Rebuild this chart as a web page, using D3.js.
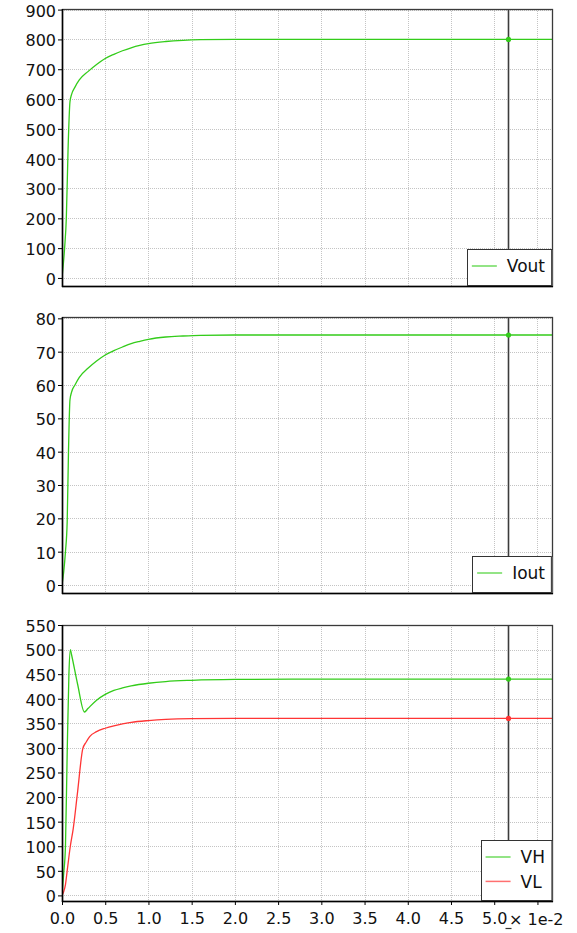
<!DOCTYPE html>
<html><head><meta charset="utf-8">
<script src="https://cdn.jsdelivr.net/npm/d3@7"></script>
<style>
html,body{margin:0;padding:0;background:#fff;}
svg{display:block;font-family:"DejaVu Sans",Verdana,sans-serif;}
</style></head><body>
<svg id="chart" width="577" height="933"></svg>
<script>
// ---- data (time in seconds) ----
const voutT = [0,0.0003,0.0005,0.0007,0.00092,0.0011,0.0015,0.002,0.003,0.004,0.005,0.006,0.007,0.008,0.009,0.010,0.012,0.014,0.016,0.020,0.0568];
const voutV = [0,100,200,430,590,615,640,664,692,716,736,750,762,772,780,786,793,797,799,800,800];

const ioutT = [0,0.0002,0.0004,0.0006,0.00075,0.00092,0.0011,0.0015,0.002,0.003,0.004,0.005,0.006,0.007,0.008,0.009,0.010,0.012,0.014,0.016,0.020,0.0568];
const ioutV = [0,4,10,19,40,55.5,57.8,60,62.3,65,67.2,69,70.3,71.4,72.4,73.1,73.7,74.4,74.7,74.9,75,75];

const vhT = [0,0.0002,0.0004,0.0006,0.0008,0.00097,0.0011,0.0018,0.0026,0.003,0.004,0.005,0.006,0.007,0.008,0.010,0.012,0.015,0.020,0.030,0.0568];
const vhV = [0,45,100,290,450,500,490,430,373,380,397,409,417,422,426,431.5,435,437.5,439.3,440,440];

const vlT = [0,0.0002,0.0004,0.0006,0.00097,0.0013,0.0018,0.0024,0.0028,0.0032,0.004,0.005,0.006,0.007,0.008,0.010,0.012,0.015,0.020,0.0568];
const vlV = [0,8,22,50,101,136,210,298,312,323,333,340,345,349,352,355.6,358,359.5,360,360];

const xTicks = [0,0.005,0.010,0.015,0.020,0.025,0.030,0.035,0.040,0.045,0.050,0.055];
const xTickLabels = ["0.0","0.5","1.0","1.5","2.0","2.5","3.0","3.5","4.0","4.5","5.0",""];
const xExponentLabel = "\u00d7 1e-2";
const cursorTime = 0.0516;

const voutTicks = [0,100,200,300,400,500,600,700,800,900];
const ioutTicks = [0,10,20,30,40,50,60,70,80];
const vhvlTicks = [0,50,100,150,200,250,300,350,400,450,500,550];

const GREEN = "#33cc1a", RED = "#ff3535";

// ---- layout ----
const svg = d3.select("#chart");
const x = d3.scaleLinear().domain([0, 0.0568]).range([62, 553]);

const panels = [
  {top: 9,   bottom: 286, domain: [-27, 902],   ticks: voutTicks,
   series: [{name:"Vout", t: voutT, v: voutV, color: GREEN}]},
  {top: 317, bottom: 593, domain: [-2.4, 80.4], ticks: ioutTicks,
   series: [{name:"Iout", t: ioutT, v: ioutV, color: GREEN}]},
  {top: 625, bottom: 901, domain: [-11.4, 550], ticks: vhvlTicks,
   series: [{name:"VH", t: vhT, v: vhV, color: GREEN},{name:"VL", t: vlT, v: vlV, color: RED}]}
];

panels.forEach((p, pi) => {
  const y = d3.scaleLinear().domain(p.domain).range([p.bottom, p.top]);
  const g = svg.append("g");
  const L = x.range()[0], R = x.range()[1];

  // grid
  const grid = g.append("g").attr("stroke", "#c4c4c4").attr("stroke-dasharray", "1,1").attr("stroke-width", 1);
  xTicks.forEach(t => {
    if (t === 0) return;
    const xx = Math.round(x(t)) + 0.5;
    grid.append("line").attr("x1", xx).attr("x2", xx).attr("y1", p.top).attr("y2", p.bottom);
  });
  p.ticks.forEach(v => {
    const yy = Math.round(y(v)) + 0.5;
    grid.append("line").attr("x1", L).attr("x2", R).attr("y1", yy).attr("y2", yy);
  });

  // clip for data
  const clipId = "clip" + pi;
  svg.append("clipPath").attr("id", clipId).append("rect")
    .attr("x", L).attr("y", p.top).attr("width", R - L).attr("height", p.bottom - p.top);

  // series
  p.series.forEach(s => {
    const pts = s.t.map((t, i) => [t, s.v[i]]);
    const line = d3.line().x(d => x(d[0])).y(d => y(d[1])).curve(d3.curveMonotoneX);
    g.append("path").attr("clip-path", `url(#${clipId})`)
      .attr("d", line(pts)).attr("fill", "none").attr("stroke", s.color).attr("stroke-width", 1.3);
  });

  // frame
  g.append("rect").attr("x", L + 0.5).attr("y", p.top + 0.5)
    .attr("width", R - L - 1).attr("height", p.bottom - p.top)
    .attr("fill", "none").attr("stroke", "#3a3a3a").attr("stroke-width", 1.3);
  g.append("line").attr("x1", L + 0.5).attr("x2", L + 0.5).attr("y1", p.top).attr("y2", p.bottom + 1)
    .attr("stroke", "#000").attr("stroke-width", 1.5);
  g.append("line").attr("x1", L).attr("x2", R).attr("y1", p.bottom + 0.5).attr("y2", p.bottom + 0.5)
    .attr("stroke", "#000").attr("stroke-width", 1.5);

  // y axis
  const yAxis = d3.axisLeft(y).tickValues(p.ticks).tickSize(4).tickPadding(2).tickFormat(d3.format("d"));
  const ya = g.append("g").attr("transform", `translate(${L},0)`).call(yAxis);
  ya.select(".domain").remove();
  ya.selectAll(".tick line").attr("stroke", "#000");
  ya.selectAll(".tick text").attr("font-size", 16).attr("fill", "#111")
    .attr("font-family", "DejaVu Sans, Verdana, sans-serif").attr("dy", "0.4em");

  // cursor
  const cx = Math.round(x(cursorTime)) + 0.5;
  g.append("line").attr("x1", cx).attr("x2", cx).attr("y1", p.top).attr("y2", p.bottom)
    .attr("stroke", "#3c3c3c").attr("stroke-width", 1.6);
  p.series.forEach(s => {
    const i = d3.bisectLeft(s.t, cursorTime);
    const t0 = s.t[i-1], t1 = s.t[i], v0 = s.v[i-1], v1 = s.v[i];
    const v = v0 + (v1 - v0) * (cursorTime - t0) / (t1 - t0);
    g.append("circle").attr("cx", cx).attr("cy", y(v)).attr("r", 2.6).attr("fill", s.color);
  });

  // legend
  const leg = g.append("g");
  const texts = p.series.map(s => s.name);
  const tmp = leg.append("text").attr("font-size", 17).attr("font-family", "DejaVu Sans, Verdana, sans-serif");
  const maxW = d3.max(texts, tx => { tmp.text(tx); return tmp.node().getComputedTextLength(); });
  tmp.remove();
  const bw = 5 + 25 + 10 + maxW + 6;
  const bh = 12 + 24 * p.series.length;
  const bx = R - 2 - bw, by = p.bottom - 1.5 - bh;
  leg.append("rect").attr("x", bx + 1.5).attr("y", by + 1.5).attr("width", bw).attr("height", bh).attr("fill", "#8a8a8a");
  leg.append("rect").attr("x", Math.round(bx) + 0.5).attr("y", Math.round(by) + 0.5).attr("width", bw).attr("height", bh)
    .attr("fill", "#fff").attr("stroke", "#333").attr("stroke-width", 1);
  p.series.forEach((s, i) => {
    const ly = by + 17.5 + i * 24.4;
    leg.append("line").attr("x1", bx + 5).attr("x2", bx + 30).attr("y1", ly).attr("y2", ly)
      .attr("stroke", s.color).attr("stroke-width", 1.5).attr("opacity", 0.7);
    leg.append("text").attr("x", bx + 40).attr("y", ly).attr("dy", "0.36em")
      .attr("font-size", 17).attr("fill", "#111").text(s.name);
  });

  // x axis on bottom panel
  if (pi === panels.length - 1) {
    const xAxis = d3.axisBottom(x).tickValues(xTicks).tickSize(3).tickPadding(8)
      .tickFormat((d, i) => xTickLabels[i]);
    const xa = g.append("g").attr("transform", `translate(0,${p.bottom + 1})`).call(xAxis);
    xa.select(".domain").remove();
    xa.selectAll(".tick line").attr("stroke", "#000");
    xa.selectAll(".tick text").attr("font-size", 16).attr("fill", "#111")
      .attr("font-family", "DejaVu Sans, Verdana, sans-serif");
    g.append("text").attr("x", 509).attr("y", 925).attr("font-size", 16).attr("fill", "#111")
      .text(xExponentLabel);
    g.append("line").attr("x1", cx - 3).attr("x2", cx + 3).attr("y1", 928.5).attr("y2", 928.5)
      .attr("stroke", "#333").attr("stroke-width", 1.2);
  }
});
</script>
</body></html>
